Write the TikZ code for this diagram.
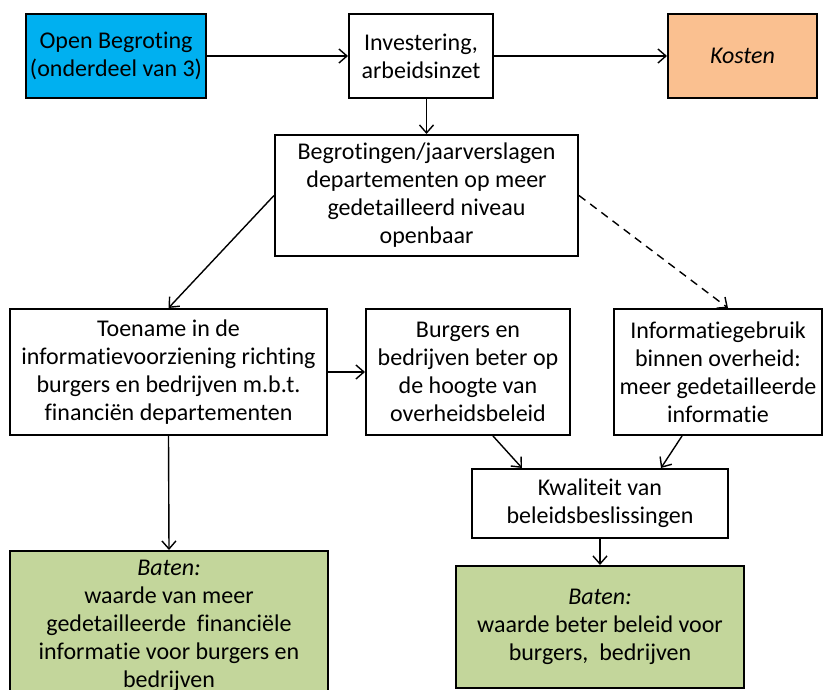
\documentclass[tikz,border=0pt]{standalone}
\usepackage{fontspec}
\setmainfont{Carlito}[Ligatures={NoCommon}]
\usetikzlibrary{arrows.meta}
\definecolor{cyanfill}{HTML}{00B0F0}
\definecolor{costfill}{HTML}{FAC090}
\definecolor{benfill}{HTML}{C3D69B}
\tikzset{
  box/.style={draw=black, line width=2pt, align=center, inner sep=2pt,
    font=\fontsize{24}{28}\selectfont},
  conn/.style={line width=1.4pt, -{Straight Barb[length=8pt,width=14pt,line width=1.4pt]}},
}
\begin{document}
\begin{tikzpicture}[x=1pt,y=-1pt]
\useasboundingbox (0,0) rectangle (823,690);
\node[box, fill=cyanfill, minimum width=180pt, minimum height=84pt] (open) at (116,56) {Open Begroting\\(onderdeel van 3)};
\node[box, fill=white, minimum width=144pt, minimum height=84pt] (inv) at (421,56) {Investering,\\arbeidsinzet};
\node[box, fill=costfill, minimum width=149pt, minimum height=84pt] (kost) at (742.5,56) {\itshape Kosten};
\node[box, fill=white, minimum width=303pt, minimum height=121pt] (begr) at (426.5,195.5) {Begrotingen/jaarverslagen\\departementen op meer\\gedetailleerd niveau\\openbaar};
\node[box, fill=white, minimum width=317pt, minimum height=126pt] (toe) at (168.5,372) {Toename in de\\informatievoorziening richting\\burgers en bedrijven m.b.t.\\financiën departementen};
\node[box, fill=white, minimum width=204pt, minimum height=126pt] (burg) at (468,372) {Burgers en\\bedrijven beter op\\de hoogte van\\overheidsbeleid};
\node[box, fill=white, minimum width=208pt, minimum height=126pt] (info) at (718,372) {Informatiegebruik\\binnen overheid:\\meer gedetailleerde\\informatie};
\node[box, fill=white, minimum width=256pt, minimum height=69pt] (kwal) at (600,503.5) {Kwaliteit van\\beleidsbeslissingen};
\node[box, fill=benfill, minimum width=318pt, minimum height=149pt] (batL) at (169,625.5) {\textit{Baten:}\\waarde van meer\\gedetailleerde\ \ financiële\\informatie voor burgers en\\bedrijven};
\node[box, fill=benfill, minimum width=288pt, minimum height=122pt] (batR) at (600,627) {\textit{Baten:}\\waarde beter beleid voor\\burgers,\ \ bedrijven};
\draw[conn] (open) -- (inv);
\draw[conn] (inv) -- (kost);
\draw[conn] (begr.north |- inv.south) -- (begr.north);
\draw[conn] (begr.west) -- (toe.north);
\draw[conn, dash pattern=on 8pt off 6pt] (begr.east) -- ([xshift=10pt]info.north);
\draw[conn] (toe.east) -- (burg.west);
\draw[conn] ([xshift=25pt]burg.south) -- ([xshift=-78pt]kwal.north);
\draw[conn] ([xshift=-36pt]info.south) -- ([xshift=61pt]kwal.north);
\draw[conn] (toe.south) -- (batL.north);
\draw[conn] (kwal.south) -- (batR.north);
\end{tikzpicture}
\end{document}
